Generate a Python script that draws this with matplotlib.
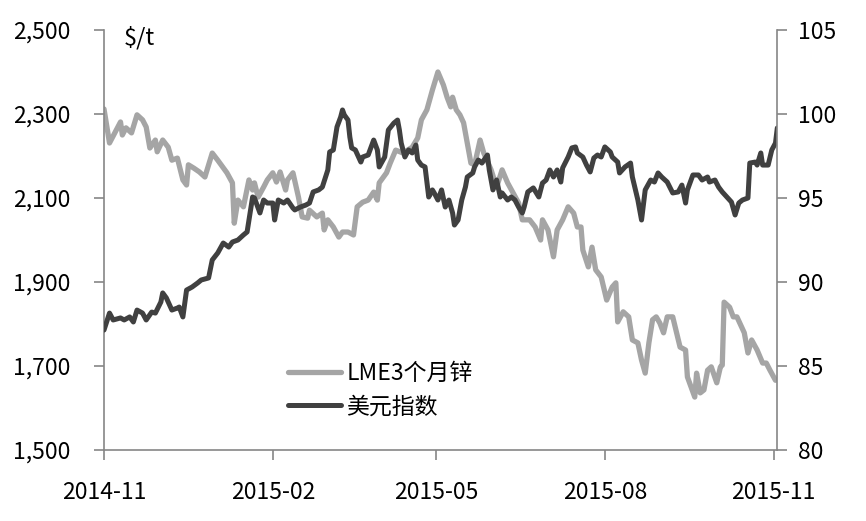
import matplotlib
matplotlib.use("Agg")
import matplotlib.pyplot as plt
import matplotlib.dates as mdates
from matplotlib.ticker import FuncFormatter, FixedLocator
import pandas as pd
import datetime as dt

plt.rcParams['font.family'] = ['Noto Sans CJK SC', 'DejaVu Sans']

lme_dates = [
    "2014-11-01", "2014-11-04", "2014-11-10", "2014-11-11", "2014-11-13", "2014-11-16", "2014-11-19",
    "2014-11-22", "2014-11-24", "2014-11-26", "2014-11-29", "2014-11-30", "2014-12-03", "2014-12-06",
    "2014-12-08", "2014-12-11", "2014-12-14", "2014-12-16", "2014-12-17", "2014-12-20", "2014-12-23",
    "2014-12-26", "2014-12-30", "2015-01-02", "2015-01-07", "2015-01-10", "2015-01-11", "2015-01-13",
    "2015-01-16", "2015-01-19", "2015-01-21", "2015-01-22", "2015-01-24", "2015-01-27", "2015-01-29",
    "2015-02-01", "2015-02-03", "2015-02-05", "2015-02-08", "2015-02-09", "2015-02-12", "2015-02-15",
    "2015-02-17", "2015-02-20", "2015-02-21", "2015-02-25", "2015-02-28", "2015-03-01", "2015-03-03",
    "2015-03-06", "2015-03-09", "2015-03-11", "2015-03-14", "2015-03-17", "2015-03-19", "2015-03-22",
    "2015-03-25", "2015-03-28", "2015-03-30", "2015-03-31", "2015-04-04", "2015-04-06", "2015-04-09",
    "2015-04-13", "2015-04-18", "2015-04-21", "2015-04-23", "2015-04-26", "2015-04-29", "2015-05-02",
    "2015-05-05", "2015-05-07", "2015-05-09", "2015-05-10", "2015-05-12", "2015-05-14", "2015-05-16",
    "2015-05-18", "2015-05-20", "2015-05-22", "2015-05-25", "2015-05-27", "2015-05-31", "2015-06-03",
    "2015-06-06", "2015-06-09", "2015-06-12", "2015-06-15", "2015-06-17", "2015-06-21", "2015-06-24",
    "2015-06-27", "2015-06-28", "2015-07-01", "2015-07-04", "2015-07-06", "2015-07-09", "2015-07-12",
    "2015-07-15", "2015-07-17", "2015-07-19", "2015-07-20", "2015-07-23", "2015-07-25", "2015-07-27",
    "2015-07-30", "2015-08-02", "2015-08-05", "2015-08-07", "2015-08-08", "2015-08-11", "2015-08-14",
    "2015-08-16", "2015-08-19", "2015-08-21", "2015-08-23", "2015-08-25", "2015-08-27", "2015-08-29",
    "2015-08-31", "2015-09-02", "2015-09-04", "2015-09-07", "2015-09-11", "2015-09-14", "2015-09-15",
    "2015-09-17", "2015-09-19", "2015-09-20", "2015-09-22", "2015-09-24", "2015-09-26", "2015-09-28",
    "2015-10-01", "2015-10-03", "2015-10-04", "2015-10-05", "2015-10-08", "2015-10-10", "2015-10-12",
    "2015-10-14", "2015-10-16", "2015-10-18", "2015-10-20", "2015-10-23", "2015-10-26", "2015-10-28",
    "2015-10-30", "2015-11-02",
]
lme_values = [
    2312, 2231, 2281, 2250, 2267, 2255, 2298, 2286, 2269, 2219, 2238, 2210, 2238, 2221,
    2190, 2195, 2143, 2131, 2179, 2171, 2162, 2150, 2207, 2190, 2160, 2136, 2040, 2095,
    2079, 2143, 2119, 2136, 2102, 2126, 2143, 2160, 2138, 2162, 2119, 2143, 2160, 2102,
    2055, 2052, 2071, 2055, 2064, 2024, 2048, 2031, 2007, 2019, 2019, 2012, 2079, 2090,
    2095, 2114, 2095, 2136, 2160, 2183, 2214, 2207, 2221, 2243, 2286, 2310, 2357, 2400,
    2369, 2340, 2317, 2340, 2310, 2298, 2279, 2231, 2183, 2179, 2238, 2207, 2167, 2126,
    2167, 2136, 2112, 2088, 2048, 2048, 2031, 2000, 2048, 2024, 1960, 2024, 2048, 2079,
    2064, 2031, 2031, 1976, 1936, 1983, 1929, 1912, 1857, 1888, 1898, 1805, 1829, 1817,
    1762, 1755, 1714, 1683, 1755, 1810, 1817, 1802, 1779, 1817, 1817, 1745, 1738, 1674,
    1650, 1626, 1683, 1636, 1643, 1690, 1698, 1660, 1698, 1702, 1852, 1840, 1817, 1817,
    1798, 1779, 1731, 1762, 1738, 1707, 1707, 1690, 1666,
]

dxy_dates = [
    "2014-11-01", "2014-11-04", "2014-11-06", "2014-11-10", "2014-11-12", "2014-11-15", "2014-11-17",
    "2014-11-19", "2014-11-22", "2014-11-24", "2014-11-27", "2014-11-29", "2014-12-02", "2014-12-03",
    "2014-12-05", "2014-12-08", "2014-12-11", "2014-12-12", "2014-12-14", "2014-12-16", "2014-12-19",
    "2014-12-22", "2014-12-24", "2014-12-28", "2014-12-30", "2015-01-02", "2015-01-05", "2015-01-08",
    "2015-01-10", "2015-01-13", "2015-01-16", "2015-01-18", "2015-01-21", "2015-01-22", "2015-01-25",
    "2015-01-27", "2015-01-29", "2015-02-01", "2015-02-02", "2015-02-04", "2015-02-07", "2015-02-09",
    "2015-02-12", "2015-02-13", "2015-02-16", "2015-02-19", "2015-02-21", "2015-02-23", "2015-02-26",
    "2015-02-28", "2015-03-03", "2015-03-04", "2015-03-06", "2015-03-08", "2015-03-10", "2015-03-11",
    "2015-03-12", "2015-03-14", "2015-03-15", "2015-03-16", "2015-03-18", "2015-03-21", "2015-03-22",
    "2015-03-25", "2015-03-28", "2015-03-30", "2015-03-31", "2015-04-03", "2015-04-05", "2015-04-08",
    "2015-04-10", "2015-04-11", "2015-04-12", "2015-04-14", "2015-04-16", "2015-04-18", "2015-04-20",
    "2015-04-21", "2015-04-23", "2015-04-25", "2015-04-27", "2015-04-29", "2015-04-30", "2015-05-02",
    "2015-05-04", "2015-05-06", "2015-05-08", "2015-05-10", "2015-05-11", "2015-05-13", "2015-05-15",
    "2015-05-17", "2015-05-18", "2015-05-21", "2015-05-22", "2015-05-24", "2015-05-26", "2015-05-29",
    "2015-05-30", "2015-06-01", "2015-06-03", "2015-06-05", "2015-06-06", "2015-06-09", "2015-06-11",
    "2015-06-13", "2015-06-15", "2015-06-17", "2015-06-18", "2015-06-20", "2015-06-23", "2015-06-26",
    "2015-06-28", "2015-06-30", "2015-07-02", "2015-07-04", "2015-07-06", "2015-07-08", "2015-07-09",
    "2015-07-12", "2015-07-14", "2015-07-16", "2015-07-17", "2015-07-20", "2015-07-22", "2015-07-24",
    "2015-07-26", "2015-07-28", "2015-07-30", "2015-08-01", "2015-08-04", "2015-08-05", "2015-08-08",
    "2015-08-09", "2015-08-12", "2015-08-15", "2015-08-16", "2015-08-19", "2015-08-21", "2015-08-23",
    "2015-08-26", "2015-08-28", "2015-08-30", "2015-09-01", "2015-09-04", "2015-09-07", "2015-09-10",
    "2015-09-12", "2015-09-14", "2015-09-15", "2015-09-18", "2015-09-21", "2015-09-23", "2015-09-26",
    "2015-09-27", "2015-09-30", "2015-10-02", "2015-10-04", "2015-10-07", "2015-10-09", "2015-10-11",
    "2015-10-13", "2015-10-15", "2015-10-18", "2015-10-19", "2015-10-22", "2015-10-23", "2015-10-25",
    "2015-10-26", "2015-10-29", "2015-10-31", "2015-11-02", "2015-11-03",
]
dxy_values = [
    87.14, 88.15, 87.74, 87.86, 87.74, 87.92, 87.62, 88.33, 88.15, 87.74, 88.21, 88.15, 88.81, 89.35,
    89.05, 88.33, 88.45, 88.51, 87.92, 89.52, 89.70, 89.94, 90.12, 90.24, 91.31, 91.73, 92.32, 92.08,
    92.38, 92.50, 92.80, 92.98, 95.06, 95.00, 94.11, 94.88, 94.70, 94.70, 93.69, 94.88, 94.70, 94.88,
    94.40, 94.29, 94.46, 94.58, 94.70, 95.36, 95.48, 95.65, 96.67, 97.74, 97.86, 99.23, 99.82, 100.24,
    99.94, 99.64, 98.63, 97.98, 97.86, 97.14, 97.44, 97.56, 98.45, 97.86, 96.85, 97.44, 99.05, 99.46,
    99.64, 99.05, 98.27, 97.44, 97.86, 97.68, 98.15, 97.26, 96.96, 96.85, 95.06, 95.48, 95.30, 94.88,
    95.48, 94.46, 94.88, 94.11, 93.39, 93.69, 94.88, 95.65, 96.25, 96.49, 96.85, 97.26, 97.08, 97.56,
    96.67, 95.48, 96.07, 95.06, 95.30, 94.88, 95.06, 94.88, 94.46, 94.11, 94.46, 95.36, 95.60, 95.06,
    95.89, 96.07, 96.67, 96.25, 96.67, 95.95, 96.79, 97.44, 97.98, 98.04, 97.68, 97.44, 96.96, 96.55,
    97.38, 97.56, 97.44, 98.04, 97.74, 97.44, 97.14, 96.49, 96.85, 97.08, 96.25, 94.88, 93.69, 95.48,
    96.07, 95.95, 96.49, 96.25, 95.95, 95.30, 95.36, 95.77, 94.70, 95.48, 96.37, 96.37, 96.07, 96.25,
    95.95, 96.07, 95.65, 95.36, 95.00, 94.76, 93.99, 94.70, 94.88, 95.00, 97.08, 97.14, 96.96, 97.68,
    96.96, 96.96, 97.86, 98.27, 99.17,
]

series_names = ["LME3个月锌", "美元指数"]
unit_label = "$/t"
x_tick_labels = ["2014-11", "2015-02", "2015-05", "2015-08", "2015-11"]
left_ticks = [1500, 1700, 1900, 2100, 2300, 2500]
right_ticks = [80, 85, 90, 95, 100, 105]

lme_x = pd.to_datetime(lme_dates)
dxy_x = pd.to_datetime(dxy_dates)

fig = plt.figure(figsize=(8.66, 5.21), dpi=100)
ax = fig.add_axes([104/866, 1-450/521, (777-104)/866, 420/521])
ax2 = ax.twinx()

axis_col = "#868686"
lme_col = "#a5a5a5"
dxy_col = "#404040"

l1, = ax.plot(lme_x, lme_values, color=lme_col, lw=3.8, solid_capstyle='round', solid_joinstyle='round')
l2, = ax2.plot(dxy_x, dxy_values, color=dxy_col, lw=3.6, solid_capstyle='round', solid_joinstyle='round')

ax.set_ylim(1500, 2500)
ax2.set_ylim(80, 105)
ax.set_yticks(left_ticks)
ax2.set_yticks(right_ticks)
ax.yaxis.set_major_formatter(FuncFormatter(lambda v, p: f"{v:,.0f}"))
ax2.yaxis.set_major_formatter(FuncFormatter(lambda v, p: f"{v:.0f}"))

x0 = dt.datetime(2014, 11, 1)
x1 = dt.datetime(2015, 11, 2, 20)
ax.set_xlim(x0, x1)
tick_dates = pd.to_datetime([s + "-01" for s in x_tick_labels])
ax.set_xticks(tick_dates)
ax.set_xticklabels(x_tick_labels)

for a in (ax, ax2):
    a.spines['top'].set_visible(False)
    for s in ('left', 'right', 'bottom'):
        a.spines[s].set_color(axis_col)
        a.spines[s].set_linewidth(1.2)
ax.spines['right'].set_visible(False)
ax2.spines['left'].set_visible(False)
ax2.spines['bottom'].set_visible(False)

fs = 16.5
ax.tick_params(axis='y', direction='out', length=7, width=1.2, color=axis_col, labelsize=fs, pad=17)
ax.tick_params(axis='x', direction='out', length=7, width=1.2, color=axis_col, labelsize=fs, pad=15)
ax2.tick_params(axis='y', direction='out', length=7, width=1.2, color=axis_col, labelsize=fs, pad=8)

ax.text((124-104)/673, (450-38)/420, unit_label, transform=ax.transAxes, fontsize=17,
        ha='left', va='center')

leg = ax2.legend([l1, l2], series_names, loc='center left',
                 bbox_to_anchor=((288-104)/673, (450-390)/420),
                 frameon=False, fontsize=fs, handlelength=2.3, handletextpad=0.25,
                 labelspacing=0.45, borderpad=0, borderaxespad=0)

fig.savefig("out.png", dpi=100)
